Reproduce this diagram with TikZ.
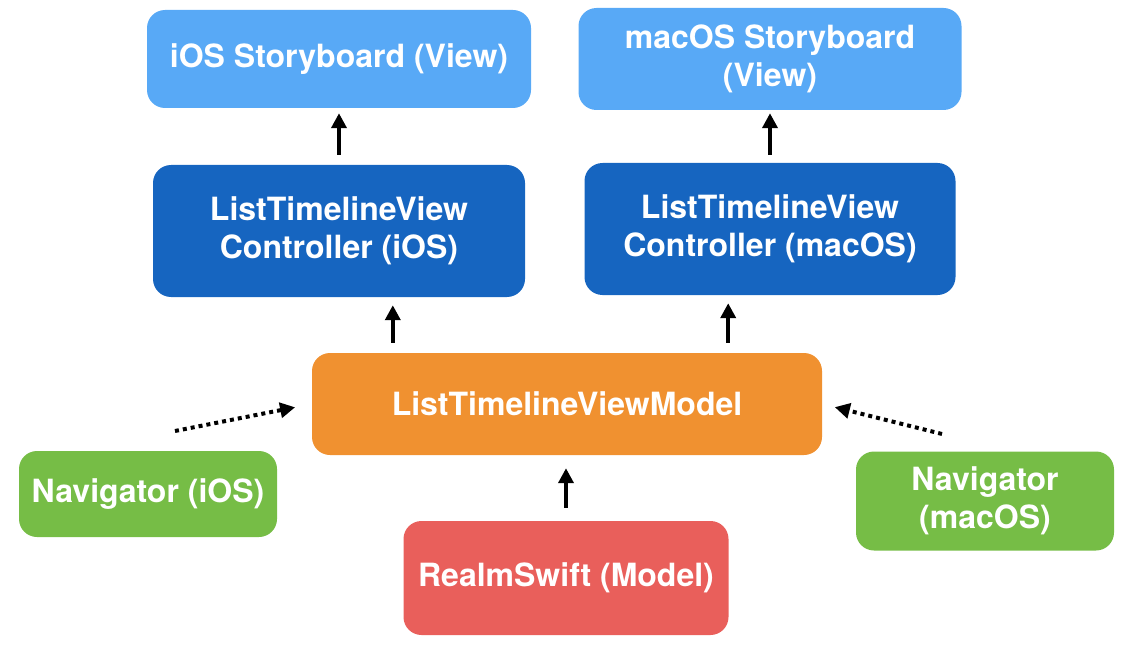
\documentclass[tikz,border=0pt]{standalone}
\usepackage{fontspec}
\setmainfont{TeX Gyre Heros}
\usetikzlibrary{arrows.meta}

\definecolor{viewblue}{RGB}{88,169,246}
\definecolor{ctrlblue}{RGB}{22,101,192}
\definecolor{vmorange}{RGB}{240,145,48}
\definecolor{navgreen}{RGB}{118,189,70}
\definecolor{modelred}{RGB}{233,95,91}

\tikzset{
  box/.style={rounded corners=18pt,inner sep=0pt,align=center,text=white,
    font=\fontsize{32}{38}\selectfont\bfseries},
  arr/.style={line width=4pt,-{Triangle[length=15pt,width=15pt]}},
  dotarr/.style={line width=4pt,dash pattern=on 4pt off 4pt,
    -{Triangle[length=15pt,width=15pt]}}
}

\begin{document}
\begin{tikzpicture}[x=1pt,y=-1pt]
  \useasboundingbox (0,0) rectangle (1130,658);
  % views
  \node[box,fill=viewblue,minimum width=384pt,minimum height=98pt] (sbios) at (339,59) {iOS Storyboard (View)};
  \node[box,fill=viewblue,minimum width=383pt,minimum height=102pt] (sbmac) at (770,59) {macOS Storyboard\\(View)};
  % controllers
  \node[box,fill=ctrlblue,minimum width=372pt,minimum height=132pt] (ctrlios) at (339,231) {ListTimelineView\\Controller (iOS)};
  \node[box,fill=ctrlblue,minimum width=371pt,minimum height=132pt] (ctrlmac) at (770,229) {ListTimelineView\\Controller (macOS)};
  % view model
  \node[box,fill=vmorange,minimum width=510pt,minimum height=102pt] (vm) at (567,404) {ListTimelineViewModel};
  % navigators and model
  \node[box,fill=navgreen,minimum width=258pt,minimum height=86pt] (navios) at (148,494) {Navigator (iOS)};
  \node[box,fill=navgreen,minimum width=258pt,minimum height=99pt] (navmac) at (985,501) {Navigator\\(macOS)};
  \node[box,fill=modelred,minimum width=325pt,minimum height=114pt] (realm) at (566,578) {RealmSwift (Model)};

  \coordinate (navios-tail) at (175,431);
  \coordinate (navmac-tail) at (942,434);

  \draw[arr,shorten <=10pt,shorten >=5pt] (ctrlios) -- (sbios);
  \draw[arr,shorten <=8pt,shorten >=3pt] (ctrlmac) -- (sbmac);
  \draw[arr,shorten <=10pt,shorten >=8pt] ([xshift=81pt]vm.north west) -- ([xshift=81pt]vm.north west |- ctrlios.south);
  \draw[arr,shorten <=10pt,shorten >=8pt] ([xshift=-94pt]vm.north east) -- ([xshift=-94pt]vm.north east |- ctrlmac.south);
  \draw[arr,shorten <=13pt,shorten >=13pt] (realm.north) -- (realm.north |- vm.south);
  \draw[dotarr,shorten >=17pt] (navios-tail) -- (vm.west);
  \draw[dotarr,shorten >=13pt] (navmac-tail) -- (vm.east);
\end{tikzpicture}
\end{document}
